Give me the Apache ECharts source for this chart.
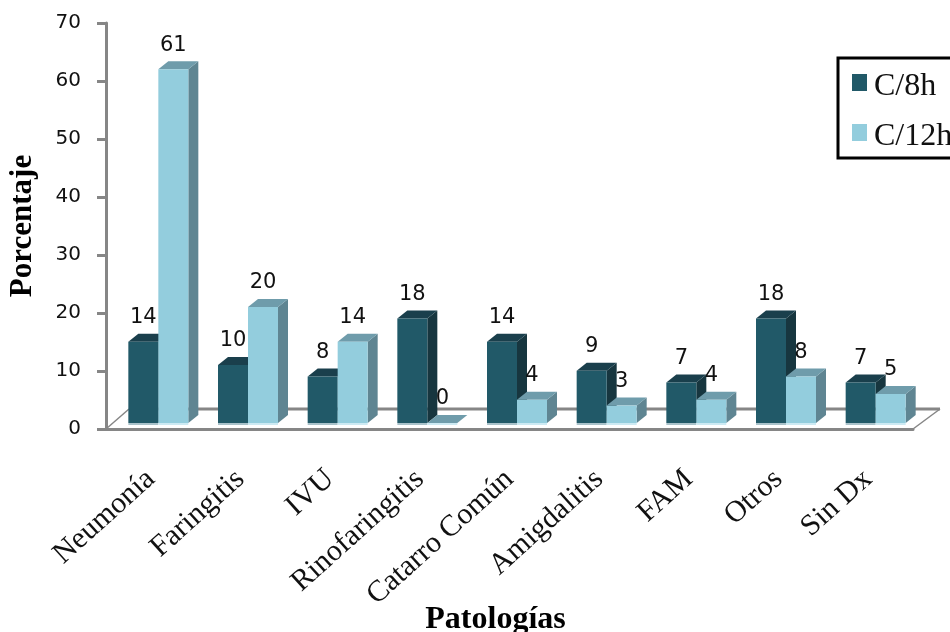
<!DOCTYPE html>
<html>
<head>
<meta charset="utf-8">
<style>html,body{margin:0;padding:0;background:#fff}#chart{width:950px;height:632px}</style>
<script src="https://cdn.jsdelivr.net/npm/echarts@6/dist/echarts.min.js"></script>
</head>
<body>
<div id="chart"></div>
<script>
// Share of each pathology by dosing interval
const categories = ['Neumonía', 'Faringitis', 'IVU', 'Rinofaringitis', 'Catarro Común', 'Amigdalitis', 'FAM', 'Otros', 'Sin Dx'];
const c8h = [14, 10, 8, 18, 14, 9, 7, 18, 7];
const c12h = [61, 20, 14, 0, 4, 3, 4, 8, 5];

const AXIS = '#868686';
const SERIF = '"Liberation Serif", serif';
const SANS = '"DejaVu Sans", sans-serif';

// Extrusion of the pseudo-3D bars and floor, in pixels
const DEPTH_X = 10, DEPTH_Y = 8, FLOOR_LIFT = 6, BAR_W = 30;

function barRenderer(startOffset, shades) {
  return function (params, api) {
    const i = api.value(0), v = api.value(1);
    const base = api.coord([i, 0]);
    const top = api.coord([i, v]);
    const x0 = base[0] + startOffset, x1 = x0 + BAR_W;
    const yb = base[1] - FLOOR_LIFT, yt = top[1] - FLOOR_LIFT;
    const poly = (points, fill) => ({ type: 'polygon', shape: { points }, style: { fill } });
    return {
      type: 'group',
      children: [
        { type: 'rect', shape: { x: x0, y: yb, width: BAR_W, height: 2 }, style: { fill: shades.glow } },
        poly([[x1, yb], [x1 + DEPTH_X, yb - DEPTH_Y], [x1 + DEPTH_X, yt - DEPTH_Y], [x1, yt]], shades.side),
        poly([[x0, yt], [x0 + DEPTH_X, yt - DEPTH_Y], [x1 + DEPTH_X, yt - DEPTH_Y], [x1, yt]], shades.top),
        { type: 'rect', shape: { x: x0, y: yt, width: BAR_W, height: yb - yt }, style: { fill: shades.face } },
        {
          type: 'text', z2: 10,
          style: {
            text: String(v), x: x0 + BAR_W / 2, y: yt - 24,
            align: 'center', verticalAlign: 'middle',
            font: '21px ' + SANS, fill: '#111'
          }
        }
      ]
    };
  };
}

const darkShades = { face: '#215968', top: '#1a3f4c', side: '#17363f', glow: '#a9c2ca' };
const lightShades = { face: '#93cddd', top: '#6f9cab', side: '#5f8592', glow: '#cdeaf3' };

const chart = echarts.init(document.getElementById('chart'), null, { renderer: 'canvas' });
chart.setOption({
  animation: false,
  backgroundColor: '#fff',
  grid: { left: 106, right: 37, top: 23, bottom: 203, containLabel: false, outerBoundsMode: 'none' },
  legend: {
    orient: 'vertical', left: 838, top: 58,
    data: ['C/8h', 'C/12h'],
    icon: 'rect', itemWidth: 15, itemHeight: 17, itemGap: 18,
    padding: [13, 6, 5, 14],
    borderColor: '#000', borderWidth: 3, borderRadius: 0,
    formatter: name => '{t|' + name + '}',
    textStyle: {
      rich: { t: { fontFamily: SERIF, fontSize: 32, color: '#111', padding: [9, 0, 0, 2] } }
    }
  },
  xAxis: {
    type: 'category', data: categories,
    name: 'Patologías', nameLocation: 'middle', nameGap: 175, nameMoveOverlap: false,
    nameTextStyle: { fontFamily: SERIF, fontSize: 32, fontWeight: 'bold', color: '#000', padding: [0, 28, 0, 0] },
    axisLine: { lineStyle: { color: AXIS, width: 3 } },
    axisTick: { alignWithLabel: false, length: 10, lineStyle: { color: AXIS, width: 3 } },
    axisLabel: { rotate: 42, interval: 0, margin: 46, fontFamily: SERIF, fontSize: 30, color: '#111' }
  },
  yAxis: {
    type: 'value', min: 0, max: 70, interval: 10,
    name: 'Porcentaje', nameLocation: 'middle', nameGap: 68, nameRotate: 90, nameMoveOverlap: false,
    nameTextStyle: { fontFamily: SERIF, fontSize: 31, fontWeight: 'bold', color: '#000' },
    splitLine: { show: false },
    axisLine: { show: true, lineStyle: { color: AXIS, width: 3 } },
    axisTick: { show: true, length: 9, lineStyle: { color: AXIS, width: 3 } },
    axisLabel: { margin: 25, padding: [4, 0, 0, 0], fontFamily: SANS, fontSize: 20, color: '#111' }
  },
  series: [
    {
      // Floor edges behind the bars
      type: 'custom', name: 'floor', silent: true, z: 1, clip: false,
      coordinateSystem: 'cartesian2d', data: [[0, 0]],
      renderItem: function (params) {
        const g = params.coordSys;
        const yFront = g.y + g.height, xL = g.x, xR = g.x + g.width;
        const yBack = yFront - 20, dx = 23;
        const line = (x1, y1, x2, y2, w) => ({
          type: 'line', shape: { x1, y1, x2, y2 }, style: { stroke: AXIS, lineWidth: w }
        });
        return {
          type: 'group',
          children: [
            line(xL + dx, yBack, xR + 27, yBack, 3),
            line(xL, yFront, xL + dx, yBack, 1.5),
            line(xR, yFront, xR + 27, yBack, 1.5)
          ]
        };
      }
    },
    {
      type: 'custom', name: 'C/8h', z: 3, clip: false,
      itemStyle: { color: darkShades.face },
      encode: { x: 0, y: 1 },
      data: c8h.map((v, i) => [i, v]),
      renderItem: barRenderer(-22.5, darkShades)
    },
    {
      type: 'custom', name: 'C/12h', z: 4, clip: false,
      itemStyle: { color: lightShades.face },
      encode: { x: 0, y: 1 },
      data: c12h.map((v, i) => [i, v]),
      renderItem: barRenderer(7.5, lightShades)
    }
  ]
});
</script>
</body>
</html>
